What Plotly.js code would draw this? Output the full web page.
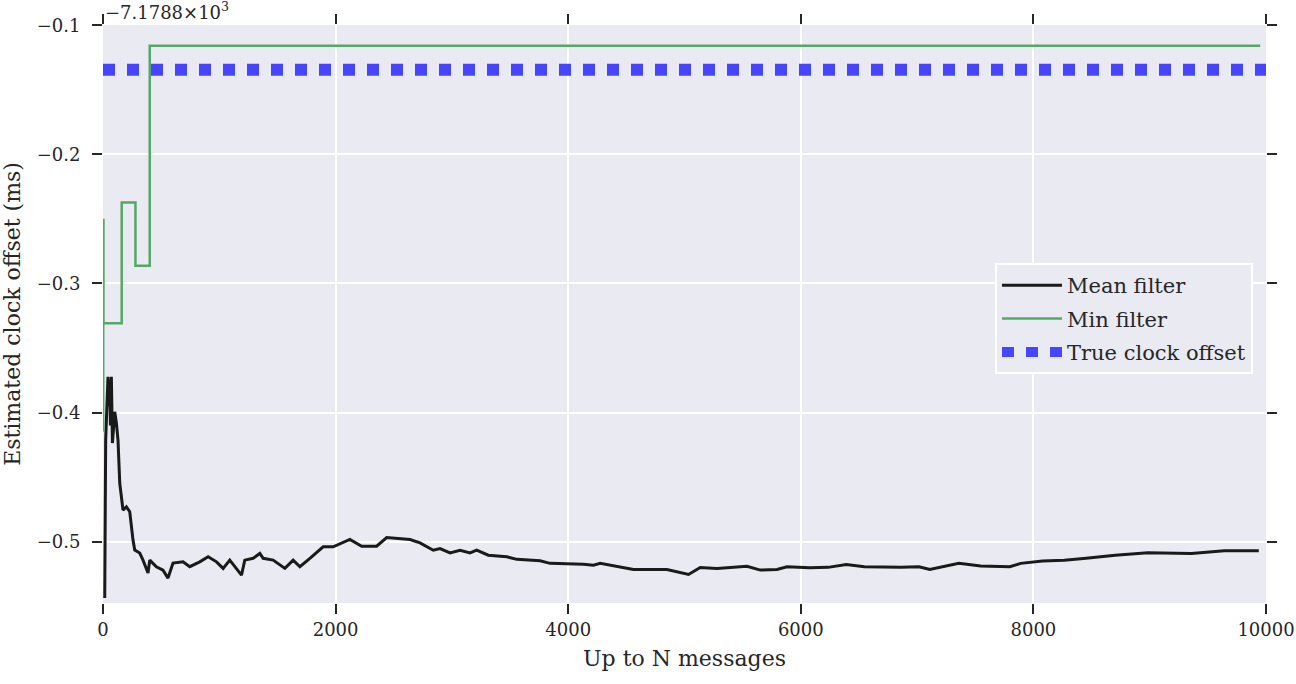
<!DOCTYPE html>
<html>
<head>
<meta charset="utf-8">
<script src="https://cdn.plot.ly/plotly-3.0.1.min.js"></script>
<style>html,body{margin:0;padding:0;background:#fff;}#chart{width:1296px;height:684px;}</style>
</head>
<body>
<div id="chart"></div>
<script>
// Values are relative to the axis offset of -7.1788e3 ms
const offsetText = "\u22127.1788\u00d710<sup>3</sup>";

const meanX = [15, 23, 43, 50, 57, 64, 68, 72, 81, 101, 115, 129, 144, 158, 172, 201, 230, 258, 273, 316, 344, 387, 402, 459, 516, 559, 602, 688, 746, 832, 904, 976, 1033, 1090, 1191, 1219, 1291, 1349, 1377, 1463, 1564, 1635, 1693, 1779, 1893, 1979, 2123, 2224, 2353, 2439, 2525, 2640, 2726, 2840, 2898, 2984, 3070, 3156, 3213, 3313, 3472, 3558, 3758, 3844, 4131, 4217, 4275, 4561, 4705, 4849, 5035, 5135, 5279, 5537, 5652, 5795, 5881, 6078, 6234, 6391, 6547, 6859, 7016, 7109, 7359, 7547, 7797, 7891, 8078, 8266, 8453, 8703, 8984, 9203, 9359, 9641, 9938];
const meanY = [-0.5436, -0.4212, -0.3723, -0.3950, -0.3750, -0.4100, -0.3800, -0.3723, -0.4236, -0.3994, -0.4081, -0.4213, -0.4546, -0.4678, -0.4755, -0.4730, -0.4768, -0.4988, -0.5065, -0.5088, -0.5143, -0.5243, -0.5143, -0.5194, -0.5220, -0.5282, -0.5166, -0.5156, -0.5194, -0.5156, -0.5117, -0.5156, -0.5207, -0.5143, -0.5259, -0.5143, -0.5129, -0.5091, -0.5129, -0.5143, -0.5207, -0.5143, -0.5194, -0.5129, -0.5040, -0.5040, -0.4983, -0.5035, -0.5035, -0.4968, -0.4975, -0.4983, -0.5009, -0.5066, -0.5053, -0.5087, -0.5066, -0.5087, -0.5066, -0.5105, -0.5117, -0.5137, -0.5148, -0.5168, -0.5174, -0.5182, -0.5168, -0.5215, -0.5215, -0.5215, -0.5254, -0.5200, -0.5207, -0.5190, -0.5220, -0.5215, -0.5194, -0.5202, -0.5199, -0.5176, -0.5194, -0.5199, -0.5194, -0.5215, -0.5168, -0.5189, -0.5194, -0.5168, -0.5150, -0.5143, -0.5129, -0.5106, -0.5086, -0.5086, -0.5091, -0.5071, -0.5071];

const minX = [0, 2, 4, 161, 279, 402, 9950];
const minY = [-0.4136, -0.2509, -0.3309, -0.2372, -0.2863, -0.1159, -0.1159];

const trueX = [0, 10000];
const trueY = [-0.1345, -0.1345];

const xTicks = [0, 2000, 4000, 6000, 8000, 10000];
const yTicks = [-0.5, -0.4, -0.3, -0.2, -0.1];

const FONT = "DejaVu Serif, Liberation Serif, serif";

const traces = [
  {x: meanX, y: meanY, type: 'scatter', mode: 'lines', name: 'Mean filter', legendgroup: 'a',
   line: {color: '#1a1a1a', width: 3}},
  {x: minX, y: minY, type: 'scatter', mode: 'lines', name: 'Min filter', legendgroup: 'b',
   line: {color: '#55a868', width: 2.5, shape: 'hv'}},
  {x: trueX, y: trueY, type: 'scatter', mode: 'lines', name: 'True clock offset', legendgroup: 'c',
   line: {color: '#4646ff', width: 12, dash: '12px,12px'}}
];

const layout = {
  width: 1296, height: 684,
  margin: {l: 103, r: 30, t: 25, b: 81, pad: 0},
  paper_bgcolor: '#ffffff', plot_bgcolor: '#eaeaf2',
  font: {family: FONT, color: '#262626', size: 18},
  showlegend: true,
  legend: {x: 0.9888, xanchor: 'right', y: 0.588, yanchor: 'top',
    bgcolor: '#eaeaf2', bordercolor: '#ffffff', borderwidth: 2,
    font: {family: FONT, size: 21, color: '#262626'}, traceorder: 'grouped', tracegroupgap: 3,
    itemwidth: 60},
  xaxis: {range: [0, 10000], tickvals: xTicks, ticktext: xTicks.map(String),
    showgrid: true, gridcolor: '#ffffff', gridwidth: 2, zeroline: false, showline: false,
    ticks: 'outside', ticklen: 10, tickwidth: 2, tickcolor: '#262626', mirror: 'ticks',
    tickfont: {family: FONT, size: 18, color: '#262626'},
    title: {text: 'Up to N messages', font: {family: FONT, size: 22, color: '#262626'}, standoff: 12}},
  yaxis: {range: [-0.5475, -0.0998], tickvals: yTicks, tickformat: '.1f',
    showgrid: true, gridcolor: '#ffffff', gridwidth: 2, zeroline: false, showline: false,
    ticks: 'outside', ticklen: 10, tickwidth: 2, tickcolor: '#262626', mirror: 'ticks',
    ticklabelstandoff: 8,
    tickfont: {family: FONT, size: 18, color: '#262626'},
    title: {text: 'Estimated clock offset (ms)', font: {family: FONT, size: 22, color: '#262626'}, standoff: 12}},
  annotations: [{xref: 'paper', yref: 'paper', x: 0, y: 1, xanchor: 'left', yanchor: 'bottom',
    yshift: 0, xshift: 0, showarrow: false, text: offsetText,
    font: {family: FONT, size: 18, color: '#262626'}}]
};

Plotly.newPlot('chart', traces, layout, {displayModeBar: false, staticPlot: true});
</script>
</body>
</html>
